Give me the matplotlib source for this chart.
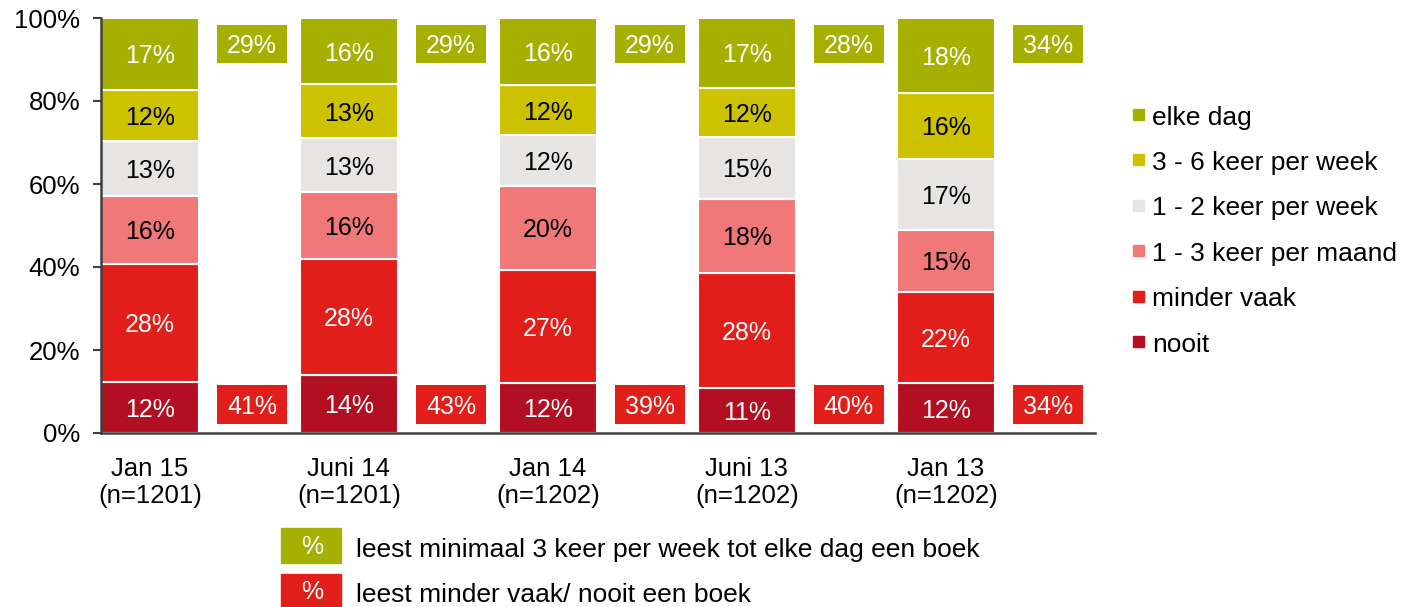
import numpy as np
import matplotlib
matplotlib.use('Agg')
import matplotlib.pyplot as plt
from matplotlib.patches import Rectangle

plt.rcParams['font.family'] = ['Liberation Sans', 'DejaVu Sans']

periods = ['Jan 15\n(n=1201)', 'Juni 14\n(n=1201)', 'Jan 14\n(n=1202)', 'Juni 13\n(n=1202)', 'Jan 13\n(n=1202)']
categories = ['nooit', 'minder vaak', '1 - 3 keer per maand', '1 - 2 keer per week', '3 - 6 keer per week', 'elke dag']
nooit = [12, 14, 12, 11, 12]
minder_vaak = [28, 28, 27, 28, 22]
per_maand = [16, 16, 20, 18, 15]
week_1_2 = [13, 13, 12, 15, 17]
week_3_6 = [12, 13, 12, 12, 16]
elke_dag = [17, 16, 16, 17, 18]
top_totals = [29, 29, 29, 28, 34]
bottom_totals = [41, 43, 39, 40, 34]

colors = ['#B20F22', '#E21E1A', '#F07878', '#E6E5E3', '#CCC200', '#A5B000']
text_colors = ['white', 'white', 'black', 'black', 'black', 'white']

series = np.array([nooit, minder_vaak, per_maand, week_1_2, week_3_6, elke_dag], dtype=float)
shares = series / series.sum(axis=0) * 100  # 100% stacked

fig = plt.figure(figsize=(14.08, 6.07), dpi=100)
ax = fig.add_axes([101/1408, 1 - 433/607, 994/1408, 415/607])

x = np.arange(len(periods))
bottom = np.zeros(len(periods))
for i, cat in enumerate(categories):
    ax.bar(x, shares[i], bottom=bottom, width=0.49, color=colors[i],
           edgecolor='white', linewidth=1.5, label=cat)
    for j in range(len(periods)):
        ax.text(x[j], bottom[j] + shares[i][j] / 2, '%d%%' % series[i][j],
                ha='center', va='center_baseline', fontsize=18, color=text_colors[i])
    bottom += shares[i]

# total boxes next to each bar
ax.bar(x + 0.513, [9.1] * len(x), bottom=89.2, width=0.35, color='#A5B000')
ax.bar(x + 0.513, [9.4] * len(x), bottom=2.2, width=0.35, color='#E21E1A')
for j in range(len(periods)):
    ax.text(x[j] + 0.513, 93.75, '%d%%' % top_totals[j], ha='center', va='center_baseline',
            fontsize=18, color='white')
    ax.text(x[j] + 0.513, 6.9, '%d%%' % bottom_totals[j], ha='center', va='center_baseline',
            fontsize=18, color='white')

ax.set_xlim(-0.246, 4.75)
ax.set_ylim(0, 100)
ax.set_yticks(np.arange(0, 101, 20))
ax.set_yticklabels(['%d%%' % v for v in range(0, 101, 20)], fontsize=18.5)
ax.set_xticks(x)
ax.set_xticklabels(periods, fontsize=18.5, linespacing=1.2)
ax.tick_params(axis='x', length=0, pad=17)
ax.tick_params(axis='y', length=5.8, width=1.5, color='#404040', pad=9)
for s in ['top', 'right']:
    ax.spines[s].set_visible(False)
for s in ['left', 'bottom']:
    ax.spines[s].set_color('#404040')
    ax.spines[s].set_linewidth(1.8)

# legend on the right
W, H = 1408, 607
for k, i in enumerate(range(len(categories) - 1, -1, -1)):
    yc = 115 + k * 45.4
    fig.patches.append(Rectangle((1133 / W, 1 - (yc + 5) / H), 11 / W, 11 / H,
                                 transform=fig.transFigure, color=colors[i]))
    fig.text(1152 / W, 1 - yc / H, categories[i], fontsize=19, va='center_baseline', ha='left')

# legend at the bottom
bottom_legend = ['leest minimaal 3 keer per week tot elke dag een boek',
                 'leest minder vaak/ nooit een boek']
for k, (txt, col) in enumerate(zip(bottom_legend, ['#A5B000', '#E21E1A'])):
    y0, y1 = [(528, 563), (574, 607)][k]
    fig.patches.append(Rectangle((281 / W, 1 - y1 / H), 60 / W, (y1 - y0) / H,
                                 transform=fig.transFigure, color=col))
    fig.text(312 / W, 1 - (y0 + y1 - 2) / 2 / H, '%', fontsize=18, color='white',
             ha='center', va='center_baseline')
    fig.text(356 / W, 1 - (y0 + y1 + 3) / 2 / H, txt, fontsize=19, ha='left', va='center_baseline')

fig.savefig('out.png', dpi=100)
